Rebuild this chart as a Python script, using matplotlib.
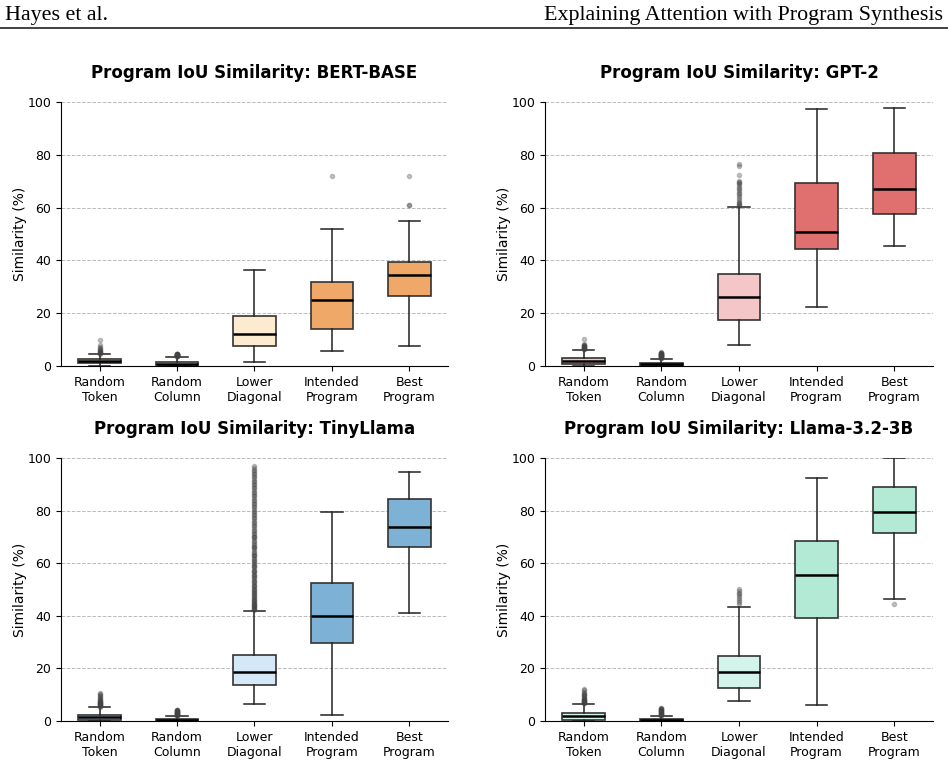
import matplotlib
matplotlib.use("Agg")
import matplotlib.pyplot as plt
from matplotlib.lines import Line2D

categories = ["Random\nToken", "Random\nColumn", "Lower\nDiagonal", "Intended\nProgram", "Best\nProgram"]
models = ["BERT-BASE", "GPT-2", "TinyLlama", "Llama-3.2-3B"]

# quartile stats per model: [RT, RC, LD, IP, BP]
bert_q1 = [1.25, 0.4, 7.6, 14.0, 26.6]
bert_med = [1.9, 0.8, 12.2, 25.0, 34.5]
bert_q3 = [2.5, 1.6, 19.1, 31.9, 39.4]
bert_lo = [0.0, 0.0, 1.4, 5.6, 7.4]
bert_hi = [4.4, 3.5, 36.4, 51.9, 55.0]
bert_fliers = [
    [4.6, 4.8, 5.0, 5.2, 5.4, 5.6, 5.8, 6.0, 6.3, 6.7, 7.2, 7.9, 9.8],
    [3.6, 3.7, 3.8, 3.9, 4.0, 4.1, 4.2, 4.3, 4.4, 4.5, 4.6, 4.7, 3.7, 3.9, 4.1, 4.3, 4.5, 3.8, 4.0, 4.2, 4.4, 4.6, 4.0, 4.2],
    [],
    [71.8],
    [60.8, 61.1, 71.8],
]

gpt2_q1 = [0.9, 0.1, 17.6, 44.2, 57.4]
gpt2_med = [1.9, 0.6, 26.3, 50.9, 67.0]
gpt2_q3 = [3.0, 1.3, 34.9, 69.2, 80.5]
gpt2_lo = [0.0, 0.0, 8.1, 22.4, 45.3]
gpt2_hi = [6.1, 2.8, 60.3, 97.3, 97.9]
gpt2_fliers = [
    [6.3, 6.5, 6.7, 6.9, 7.1, 7.3, 7.5, 7.7, 7.9, 8.1, 8.5, 6.6, 7.0, 7.4, 10.4],
    [3.0, 3.2, 3.4, 3.6, 3.8, 4.0, 4.2, 4.4, 4.6, 4.8, 5.0, 5.2, 3.1, 3.3, 3.5, 3.7, 3.9, 4.1, 4.3, 4.5, 4.7, 4.9, 5.1, 3.5, 4.0, 4.5],
    [60.6, 61.0, 61.4, 61.8, 62.2, 62.8, 63.5, 64.2, 65.0, 65.6, 66.2, 66.9, 67.6, 68.3, 68.9, 69.3, 69.7, 70.2, 72.3, 75.9, 76.4],
    [],
    [],
]

tiny_q1 = [0.4, 0.0, 13.5, 29.5, 66.3]
tiny_med = [1.4, 0.4, 18.7, 40.1, 73.9]
tiny_q3 = [2.4, 0.9, 25.1, 52.5, 84.3]
tiny_lo = [0.0, 0.0, 6.6, 2.2, 41.1]
tiny_hi = [5.3, 1.9, 42.0, 79.5, 94.6]
tiny_fliers = [
    [5.5, 5.7, 5.9, 6.1, 6.3, 6.5, 6.7, 6.9, 7.1, 7.3, 7.5, 7.8, 8.1, 8.4, 8.7, 9.0, 9.4, 9.8, 10.2, 10.8, 5.6, 6.0, 6.4, 6.8, 7.2],
    [2.0, 2.2, 2.4, 2.6, 2.8, 3.0, 3.2, 3.4, 3.6, 3.8, 4.0, 4.2, 2.1, 2.3, 2.5, 2.7, 2.9, 3.1, 3.3, 3.5, 3.7, 3.9, 4.1, 4.3],
    [42.2, 42.6, 43.0, 43.4, 43.8, 44.2, 44.6, 45.0, 45.5, 46.0, 46.5, 47.0, 47.5, 48.0, 48.5, 49.0, 49.5, 50.0,
     50.6, 51.2, 51.8, 52.4, 53.0, 53.6, 54.2, 54.8, 55.4, 56.0, 56.6, 57.2, 57.8, 58.4, 59.0, 59.6, 60.2,
     60.8, 61.4, 62.0, 62.6, 63.2, 63.8, 64.4, 65.0, 65.6, 66.2, 66.8, 67.4, 68.0, 68.6, 69.2, 69.8, 70.4,
     71.0, 71.6, 72.2, 72.8, 73.4, 74.0, 74.6, 75.2, 75.8, 76.4, 77.0, 77.6, 78.2, 78.8, 79.4, 80.0, 80.6,
     81.2, 81.8, 82.4, 83.0, 83.6, 84.2, 84.8, 85.4, 86.0, 86.6, 87.2, 87.8, 88.4, 89.0, 89.6, 90.2, 90.8,
     91.4, 92.0, 92.6, 93.2, 93.8, 94.4, 95.0, 95.6, 96.2, 96.8,
     42.4, 43.2, 44.0, 44.8, 45.8, 46.8, 48.2, 49.8, 51.5, 53.3, 55.1, 57.0, 58.9, 61.0, 63.0, 66.0, 70.0],
    [],
    [],
]

llama_q1 = [0.4, 0.0, 12.4, 39.1, 71.4]
llama_med = [1.9, 0.4, 18.5, 55.4, 79.4]
llama_q3 = [2.9, 0.9, 24.8, 68.5, 88.9]
llama_lo = [0.0, 0.0, 7.7, 6.1, 46.3]
llama_hi = [6.5, 1.9, 43.4, 92.4, 100.0]
llama_fliers = [
    [6.7, 6.9, 7.1, 7.3, 7.5, 7.7, 7.9, 8.2, 8.5, 8.8, 9.1, 9.4, 9.7, 10.0, 10.4, 10.8, 11.2, 11.7, 12.3, 6.8, 7.2, 7.6, 8.0],
    [2.0, 2.3, 2.6, 2.9, 3.2, 3.5, 3.8, 4.1, 4.4, 4.7, 5.0, 2.2, 2.5, 2.8, 3.1, 3.4, 3.7, 4.0, 4.3, 4.6, 4.9, 3.0],
    [44.5, 45.2, 46.0, 46.8, 47.5, 48.2, 48.8, 49.5, 50.0],
    [],
    [44.4],
]

light_colors = ["#FDEBD0", "#F5C6C8", "#D5E8F7", "#D3F4EB"]
full_colors = ["#F0A868", "#E07070", "#7DB2D6", "#B2EAD6"]

all_stats = [
    (bert_q1, bert_med, bert_q3, bert_lo, bert_hi, bert_fliers),
    (gpt2_q1, gpt2_med, gpt2_q3, gpt2_lo, gpt2_hi, gpt2_fliers),
    (tiny_q1, tiny_med, tiny_q3, tiny_lo, tiny_hi, tiny_fliers),
    (llama_q1, llama_med, llama_q3, llama_lo, llama_hi, llama_fliers),
]

fig = plt.figure(figsize=(9.48, 7.62), dpi=100)

fig.text(0.005, 0.980, "Hayes et al.", family="Liberation Serif", fontsize=15.8, va="center", ha="left")
fig.text(0.995, 0.980, "Explaining Attention with Program Synthesis", family="Liberation Serif",
         fontsize=15.8, va="center", ha="right")
fig.add_artist(Line2D([0, 1], [0.9633, 0.9633], color="#333333", linewidth=1.3, transform=fig.transFigure))

positions_axes = [
    [0.0643, 0.5197, 0.4083, 0.3465],
    [0.5749, 0.5197, 0.4093, 0.3465],
    [0.0643, 0.0538, 0.4083, 0.3452],
    [0.5749, 0.0538, 0.4093, 0.3452],
]

for i, (model, st) in enumerate(zip(models, all_stats)):
    ax = fig.add_axes(positions_axes[i])
    q1, med, q3, lo, hi, fl = st
    stats = []
    for k in range(len(categories)):
        stats.append(dict(q1=q1[k], med=med[k], q3=q3[k], whislo=lo[k], whishi=hi[k], fliers=fl[k]))
    bp = ax.bxp(stats, positions=range(1, 6), widths=0.55, patch_artist=True,
                boxprops=dict(edgecolor="#333333", linewidth=1.2),
                whiskerprops=dict(color="#222222", linewidth=1.1),
                capprops=dict(color="#222222", linewidth=1.1),
                medianprops=dict(color="black", linewidth=1.8),
                flierprops=dict(marker="o", markersize=3, markerfacecolor="#444444",
                                markeredgecolor="#444444", alpha=0.3))
    for k, patch in enumerate(bp["boxes"]):
        patch.set_facecolor(light_colors[i] if k < 3 else full_colors[i])
    ax.set_xticks(range(1, 6))
    ax.set_xticklabels(categories, fontsize=9)
    ax.set_xlim(0.5, 5.5)
    ax.set_ylim(0, 100)
    ax.set_yticks([0, 20, 40, 60, 80, 100])
    ax.tick_params(axis="y", labelsize=9)
    ax.set_ylabel("Similarity (%)", fontsize=10, labelpad=0.5)
    ax.set_title(f"Program IoU Similarity: {model}", fontsize=12, fontweight="bold", pad=17)
    ax.yaxis.grid(True, linestyle="--", color="#BBBBBB", linewidth=0.7)
    ax.set_axisbelow(True)
    ax.spines["top"].set_visible(False)
    ax.spines["right"].set_visible(False)

fig.savefig("out.png", dpi=100)
